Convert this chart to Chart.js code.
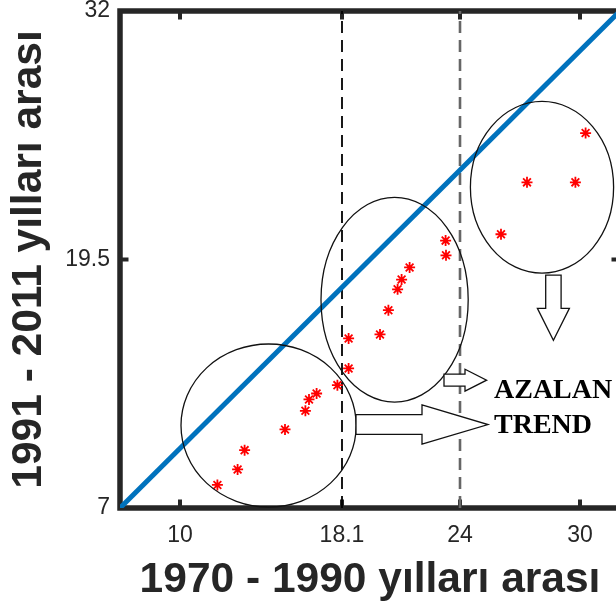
<!DOCTYPE html>
<html>
<head>
<meta charset="utf-8">
<script src="https://cdn.jsdelivr.net/npm/chart.js@4/dist/chart.umd.min.js"></script>
<style>
  html, body { margin: 0; padding: 0; overflow: hidden; background: #ffffff; }
  canvas { display: block; }
</style>
</head>
<body>
<canvas id="chart" width="640" height="609"></canvas>
<script>
// Tick positions shown on each axis
const xTicks = [10, 18.1, 24, 30];
const yTicks = [7, 19.5, 32];

// Paired values: 1970-1990 period (x) vs 1991-2011 period (y)
const period1970 = [11.87, 12.88, 13.23, 15.25, 16.27, 16.45, 16.83, 17.87, 18.43, 18.43,
                    20.0, 20.42, 20.88, 21.08, 21.48, 23.3, 23.28,
                    26.05, 27.35, 29.77, 30.28];
const period1991 = [8.16, 8.94, 9.91, 10.95, 11.89, 12.46, 12.76, 13.18, 14.02, 15.53,
                    15.73, 16.95, 18.0, 18.49, 19.1, 19.71, 20.45,
                    20.77, 23.38, 23.38, 25.86];

// 1:1 reference line and the two threshold lines
const identityLine = [7, 32];
const thresholds = [18.1, 24];

const AXIS_COLOR = '#262626';
const SANS = 'Liberation Sans';
const SERIF = '"Liberation Serif", "Times New Roman", serif';

const points = period1970.map((x, i) => ({ x: x, y: period1991[i] }));

// Hand-drawn style annotations (data units)
const groupEllipses = [
  { cx: 14.43, cy: 11.15, rx: 4.38, ry: 4.10 },
  { cx: 20.73, cy: 17.48, rx: 3.68, ry: 5.15 },
  { cx: 28.10, cy: 23.13, rx: 3.58, ry: 4.32 }
];
const rightArrows = [
  { x0: 18.80, x1: 22.10, x2: 25.40, cy: 11.20, shaft: 0.50, head: 0.99 },
  { x0: 23.20, x1: 24.25, x2: 25.33, cy: 13.43, shaft: 0.30, head: 0.55 }
];
const downArrows = [
  { cx: 28.67, y0: 18.71, y1: 17.04, y2: 15.44, shaft: 0.385, head: 0.80 }
];
const notes = [
  { text: 'AZALAN', x: 25.70, y: 12.54 },
  { text: 'TREND', x: 25.70, y: 10.78 }
];

// Box frame with inward tick marks
const framePlugin = {
  id: 'frame',
  beforeDatasetsDraw(chart) {
    const { ctx, chartArea: a, scales: { x, y } } = chart;
    ctx.save();
    ctx.strokeStyle = AXIS_COLOR;
    ctx.lineWidth = 5.5;
    ctx.lineJoin = 'miter';
    ctx.strokeRect(a.left, a.top, a.right - a.left, a.bottom - a.top);
    ctx.lineWidth = 4;
    ctx.lineCap = 'butt';
    const len = 8.5;
    xTicks.forEach(v => {
      const px = x.getPixelForValue(v);
      ctx.beginPath();
      ctx.moveTo(px, a.bottom); ctx.lineTo(px, a.bottom - len);
      ctx.moveTo(px, a.top); ctx.lineTo(px, a.top + len);
      ctx.stroke();
    });
    yTicks.forEach(v => {
      const py = y.getPixelForValue(v);
      ctx.beginPath();
      ctx.moveTo(a.left, py); ctx.lineTo(a.left + len, py);
      ctx.moveTo(a.right, py); ctx.lineTo(a.right - len, py);
      ctx.stroke();
    });
    ctx.restore();
  }
};

const notesPlugin = {
  id: 'notes',
  afterDatasetsDraw(chart) {
    const { ctx, scales: { x, y } } = chart;
    const X = v => x.getPixelForValue(v);
    const Y = v => y.getPixelForValue(v);
    ctx.save();
    ctx.strokeStyle = '#111111';
    ctx.lineWidth = 1.3;
    groupEllipses.forEach(e => {
      const cx = X(e.cx), cy = Y(e.cy);
      const rx = Math.abs(X(e.cx + e.rx) - cx), ry = Math.abs(Y(e.cy + e.ry) - cy);
      ctx.beginPath();
      ctx.ellipse(cx, cy, rx, ry, 0, 0, Math.PI * 2);
      ctx.stroke();
    });
    ctx.fillStyle = '#ffffff';
    rightArrows.forEach(r => {
      ctx.beginPath();
      ctx.moveTo(X(r.x0), Y(r.cy + r.shaft));
      ctx.lineTo(X(r.x1), Y(r.cy + r.shaft));
      ctx.lineTo(X(r.x1), Y(r.cy + r.head));
      ctx.lineTo(X(r.x2), Y(r.cy));
      ctx.lineTo(X(r.x1), Y(r.cy - r.head));
      ctx.lineTo(X(r.x1), Y(r.cy - r.shaft));
      ctx.lineTo(X(r.x0), Y(r.cy - r.shaft));
      ctx.closePath();
      ctx.fill();
      ctx.stroke();
    });
    downArrows.forEach(d => {
      ctx.beginPath();
      ctx.moveTo(X(d.cx - d.shaft), Y(d.y0));
      ctx.lineTo(X(d.cx - d.shaft), Y(d.y1));
      ctx.lineTo(X(d.cx - d.head), Y(d.y1));
      ctx.lineTo(X(d.cx), Y(d.y2));
      ctx.lineTo(X(d.cx + d.head), Y(d.y1));
      ctx.lineTo(X(d.cx + d.shaft), Y(d.y1));
      ctx.lineTo(X(d.cx + d.shaft), Y(d.y0));
      ctx.closePath();
      ctx.fill();
      ctx.stroke();
    });
    ctx.fillStyle = '#000000';
    ctx.font = 'bold 28px ' + SERIF;
    ctx.textAlign = 'left';
    ctx.textBaseline = 'alphabetic';
    notes.forEach(n => ctx.fillText(n.text, X(n.x), Y(n.y)));
    ctx.restore();
  }
};

new Chart(document.getElementById('chart'), {
  type: 'scatter',
  data: {
    datasets: [
      {
        label: 'identity',
        type: 'line',
        data: identityLine.map(v => ({ x: v, y: v })),
        borderColor: '#0072BD',
        borderWidth: 5,
        pointRadius: 0,
        order: 3
      },
      {
        label: 'threshold 1',
        type: 'line',
        data: [{ x: thresholds[0], y: yTicks[0] }, { x: thresholds[0], y: yTicks[2] }],
        borderColor: '#000000',
        borderWidth: 1.8,
        borderDash: [12, 7],
        pointRadius: 0,
        order: 4
      },
      {
        label: 'threshold 2',
        type: 'line',
        data: [{ x: thresholds[1], y: yTicks[0] }, { x: thresholds[1], y: yTicks[2] }],
        borderColor: '#666666',
        borderWidth: 2.6,
        borderDash: [12, 7],
        pointRadius: 0,
        order: 4
      },
      {
        label: 'values',
        data: points,
        pointStyle: 'star',
        pointRadius: 5.5,
        borderColor: '#ff0000',
        backgroundColor: '#ff0000',
        pointBorderWidth: 1.8,
        order: 1
      }
    ]
  },
  options: {
    responsive: false,
    animation: false,
    devicePixelRatio: 1,
    layout: { padding: { left: 0, top: 11, right: 20, bottom: 0 } },
    plugins: { legend: { display: false }, tooltip: { enabled: false } },
    scales: {
      x: {
        type: 'linear',
        min: 7, max: 32,
        afterBuildTicks: s => { s.ticks = xTicks.map(v => ({ value: v })); },
        afterFit: s => { s.height = 101; s.paddingLeft = 0; s.paddingRight = 0; },
        grid: { display: false, drawTicks: false },
        border: { display: false },
        ticks: {
          color: AXIS_COLOR,
          font: { family: SANS, size: 23 },
          padding: 14,
          maxRotation: 0,
          autoSkip: false,
          callback: v => String(v)
        },
        title: {
          display: true,
          text: '1970 - 1990 yılları arası',
          color: AXIS_COLOR,
          font: { family: SANS, size: 42.5, weight: 'bold' },
          padding: { top: 0, bottom: 3 }
        }
      },
      y: {
        type: 'linear',
        min: 7, max: 32,
        afterBuildTicks: s => { s.ticks = yTicks.map(v => ({ value: v })); },
        afterFit: s => { s.width = 120; s.paddingTop = 0; s.paddingBottom = 0; },
        grid: { display: false, drawTicks: false },
        border: { display: false },
        ticks: {
          color: AXIS_COLOR,
          font: { family: SANS, size: 23 },
          padding: 10,
          autoSkip: false,
          callback: v => String(v)
        },
        title: {
          display: true,
          text: '1991 - 2011 yılları arası',
          color: AXIS_COLOR,
          font: { family: SANS, size: 42.5, weight: 'bold' },
          padding: { top: 4, bottom: 0 }
        }
      }
    }
  },
  plugins: [framePlugin, notesPlugin]
});
</script>
</body>
</html>
